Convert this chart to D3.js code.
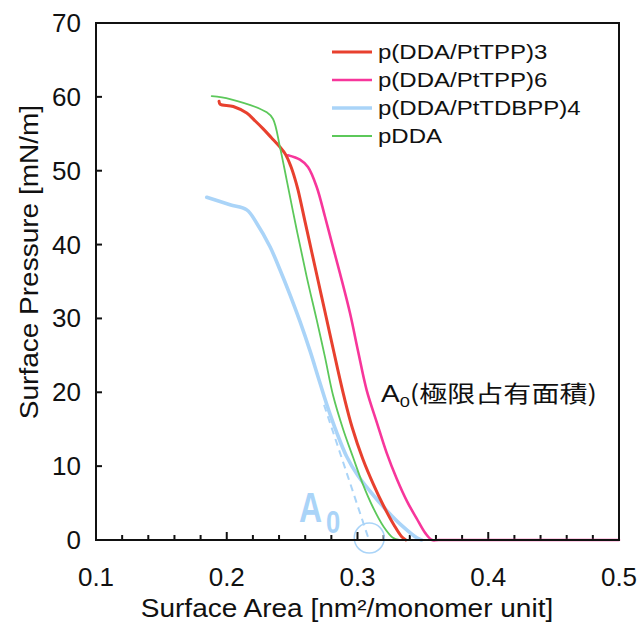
<!DOCTYPE html>
<html>
<head>
<meta charset="utf-8">
<script src="https://cdn.jsdelivr.net/npm/d3@7.9.0/dist/d3.min.js"></script>
<style>
  body { margin: 0; background: #fff; }
  svg { display: block; }
  text { font-family: "Liberation Sans", Arial, Helvetica, sans-serif; }
</style>
</head>
<body>
<svg id="chart" width="641" height="626"></svg>
<script>
// isotherm data: [area nm^2/monomer unit, surface pressure mN/m]
const seriesNames = ["p(DDA/PtTPP)3", "p(DDA/PtTPP)6", "p(DDA/PtTDBPP)4", "pDDA"];
const seriesColors = ["#e8402e", "#f7369b", "#aad4f8", "#5cc85a"];

const ptTPP3 = [
  [0.1941, 59.4], [0.1950, 59.0], [0.2050, 58.7], [0.2153, 57.8], [0.2220, 56.7],
  [0.2277, 55.7], [0.2340, 54.5], [0.2407, 53.2], [0.2450, 52.2], [0.2490, 50.6],
  [0.2520, 49.0], [0.2545, 47.4], [0.2600, 43.0], [0.2650, 39.0], [0.2700, 35.0],
  [0.2750, 31.0], [0.2800, 27.0], [0.2850, 23.0], [0.2900, 19.2], [0.2960, 15.2],
  [0.3040, 11.0], [0.3120, 7.6], [0.3200, 4.6], [0.3280, 2.0], [0.3340, 0.4],
  [0.3370, 0]
];
const ptTPP6 = [
  [0.2468, 52.1], [0.2560, 51.5], [0.2621, 50.5], [0.2688, 47.8], [0.2751, 43.8],
  [0.2800, 40.5], [0.2866, 36.1], [0.2943, 30.7], [0.3004, 25.6], [0.3070, 20.3],
  [0.3150, 15.8], [0.3223, 11.8], [0.3300, 8.3], [0.3380, 5.2], [0.3453, 2.9],
  [0.3520, 0.9], [0.3570, 0], [0.3620, 0], [0.5, 0]
];
const ptTDBPP4 = [
  [0.1847, 46.4], [0.2025, 45.4], [0.2153, 44.7], [0.2229, 42.9], [0.2331, 39.7],
  [0.2407, 36.6], [0.2484, 33.2], [0.2560, 29.6], [0.2637, 25.6], [0.2700, 22.0],
  [0.2764, 18.4], [0.2840, 14.6], [0.2917, 11.3], [0.3000, 8.8], [0.3096, 6.6],
  [0.3223, 4.0], [0.3348, 1.8], [0.3453, 0.3], [0.3490, 0]
];
const pDDA = [
  [0.1885, 60.1], [0.2025, 59.7], [0.2306, 57.9], [0.2354, 57.0], [0.2407, 53.2],
  [0.2459, 48.7], [0.2535, 42.0], [0.2612, 35.6], [0.2688, 29.8], [0.2751, 24.8],
  [0.2813, 19.6], [0.2890, 15.0], [0.2966, 11.2], [0.3040, 7.6], [0.3119, 4.4],
  [0.3200, 1.8], [0.3271, 0.3], [0.3320, 0], [0.3370, 0], [0.434, 0]
];
const seriesData = [ptTPP3, ptTPP6, ptTDBPP4, pDDA];

// extrapolated tangent to limiting area A0
const tangentLine = [[0.2744, 18.3], [0.3088, 0]];
const limitingArea = 0.309;

const xTicks = [0.1, 0.2, 0.3, 0.4, 0.5];
const xMinorTicks = d3.range(0.12, 0.5, 0.02);
const yTicks = [0, 10, 20, 30, 40, 50, 60, 70];

const svg = d3.select("#chart");
const x = d3.scaleLinear().domain([0.1, 0.5]).range([96, 619]);
const y = d3.scaleLinear().domain([0, 70]).range([540, 23]);

// stretch text horizontally like the reference
function stretch(sel, factor) {
  sel.each(function () {
    const len = this.getComputedTextLength();
    d3.select(this).attr("textLength", len * factor).attr("lengthAdjust", "spacingAndGlyphs");
  });
}

// minor ticks (inside, bottom)
svg.append("g")
  .selectAll("line")
  .data(xMinorTicks)
  .join("line")
  .attr("x1", d => x(d)).attr("x2", d => x(d))
  .attr("y1", y(0)).attr("y2", d => Math.abs(d * 10 - Math.round(d * 10)) < 1e-6 ? y(0) - 8 : y(0) - 5)
  .attr("stroke", "#111").attr("stroke-width", 2);

// y ticks (inside, left)
svg.append("g")
  .selectAll("line")
  .data(yTicks.slice(1, -1))
  .join("line")
  .attr("x1", x(0.1)).attr("x2", x(0.1) + 6)
  .attr("y1", d => y(d)).attr("y2", d => y(d))
  .attr("stroke", "#111").attr("stroke-width", 2);

// tick labels
svg.append("g")
  .selectAll("text")
  .data(xTicks)
  .join("text")
  .attr("x", d => x(d)).attr("y", 586)
  .attr("text-anchor", "middle")
  .attr("font-size", 26).attr("fill", "#111")
  .text(d => d3.format(".1f")(d));

svg.append("g")
  .selectAll("text")
  .data(yTicks)
  .join("text")
  .attr("x", 81).attr("y", d => y(d) + 9)
  .attr("text-anchor", "end")
  .attr("font-size", 26).attr("fill", "#111")
  .text(d => d);

// axis titles
svg.append("text")
  .attr("x", 347).attr("y", 617)
  .attr("text-anchor", "middle")
  .attr("font-size", 25).attr("fill", "#111")
  .text("Surface Area [nm²/monomer unit]")
  .call(stretch, 1.12);

svg.append("text")
  .attr("transform", "translate(38,262) rotate(-90)")
  .attr("text-anchor", "middle")
  .attr("font-size", 25).attr("fill", "#111")
  .text("Surface Pressure [mN/m]")
  .call(stretch, 1.12);

// curves
const line = d3.line()
  .x(d => x(d[0]))
  .y(d => y(d[1]))
  .curve(d3.curveCatmullRom.alpha(0.5));

const widths = [3, 2.6, 3.6, 1.8];
const drawOrder = [1, 2, 0, 3];
svg.append("g")
  .selectAll("path")
  .data(drawOrder)
  .join("path")
  .attr("d", i => line(seriesData[i]))
  .attr("fill", "none")
  .attr("stroke", i => seriesColors[i])
  .attr("stroke-width", i => widths[i])
  .attr("stroke-linejoin", "round")
  .attr("stroke-linecap", "round");

// tangent + A0 marker
svg.append("path")
  .attr("d", d3.line().x(d => x(d[0])).y(d => y(d[1]))(tangentLine))
  .attr("fill", "none")
  .attr("stroke", "#aad4f8")
  .attr("stroke-width", 2)
  .attr("stroke-dasharray", "7,5");

svg.append("circle")
  .attr("cx", x(limitingArea)).attr("cy", y(0) - 2)
  .attr("r", 15)
  .attr("fill", "none")
  .attr("stroke", "#aad4f8")
  .attr("stroke-width", 1.5);

// big A0 label, narrowed with a transform
svg.append("text")
  .attr("transform", "translate(299,522) scale(0.76,1)")
  .attr("fill", "#aad4f8")
  .attr("font-weight", "bold")
  .attr("font-size", 42)
  .text("A");
svg.append("text")
  .attr("transform", "translate(326,533) scale(0.8,1)")
  .attr("fill", "#aad4f8")
  .attr("font-weight", "bold")
  .attr("font-size", 32)
  .text("0");

// frame
svg.append("rect")
  .attr("x", x(0.1)).attr("y", y(70))
  .attr("width", x(0.5) - x(0.1)).attr("height", y(0) - y(70))
  .attr("fill", "none").attr("stroke", "#111").attr("stroke-width", 2);

// annotation
const ann = svg.append("text")
  .attr("x", 381).attr("y", 402)
  .attr("font-size", 23).attr("fill", "#111");
ann.append("tspan").text("A");
ann.append("tspan").attr("font-size", 15).attr("dy", 5).text("0");
ann.append("tspan").attr("dy", -5)
  .style("font-family", "'Noto Sans CJK JP', 'Noto Sans CJK SC', sans-serif")
  .text("(極限占有面積)");
{
  const len = ann.node().getComputedTextLength();
  ann.attr("transform", `translate(381,0) scale(${216 / len},1) translate(-381,0)`);
}

// legend
const legend = svg.append("g");
const legendY = [52, 80, 108, 136];
seriesNames.forEach((name, i) => {
  legend.append("line")
    .attr("x1", 332).attr("x2", 372)
    .attr("y1", legendY[i]).attr("y2", legendY[i])
    .attr("stroke", seriesColors[i])
    .attr("stroke-width", widths[i]);
  legend.append("text")
    .attr("x", 378).attr("y", legendY[i] + 7)
    .attr("font-size", 20).attr("fill", "#111")
    .text(name)
    .call(stretch, 1.2);
});
</script>
</body>
</html>
